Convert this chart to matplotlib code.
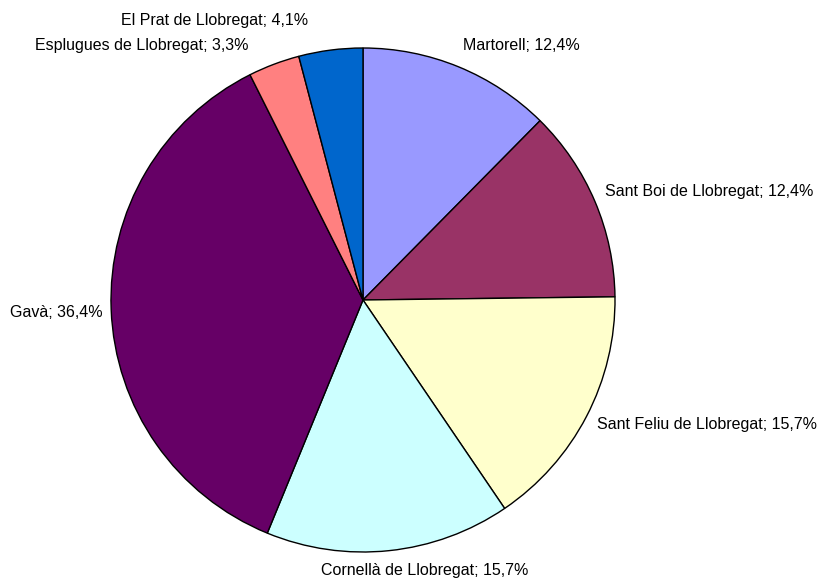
import matplotlib
matplotlib.use("Agg")
import matplotlib.pyplot as plt

names = ["Martorell", "Sant Boi de Llobregat", "Sant Feliu de Llobregat",
         "Cornellà de Llobregat", "Gavà", "Esplugues de Llobregat",
         "El Prat de Llobregat"]
shares = [12.4, 12.4, 15.7, 15.7, 36.4, 3.3, 4.1]
colors = ["#9999FF", "#993366", "#FFFFCC", "#CCFFFF", "#660066", "#FF8080", "#0066CC"]

# label anchor in pie-radius units, plus horizontal alignment
label_pos = [(0.397, 1.008, "left"), (0.960, 0.429, "left"), (0.929, -0.496, "left"),
             (0.246, -1.075, "center"), (-1.032, -0.048, "right"),
             (-0.456, 1.008, "right"), (-0.218, 1.111, "right")]

plt.rcParams["font.family"] = ["Liberation Sans", "DejaVu Sans"]

fig = plt.figure(figsize=(8.17, 5.78), dpi=100)
ax = fig.add_axes([0, 0, 1, 1])
ax.pie(shares, colors=colors, startangle=90, counterclock=False, radius=1,
       wedgeprops=dict(edgecolor="black", linewidth=1.0))

for name, val, (x, y, ha) in zip(names, shares, label_pos):
    txt = "{}; {}%".format(name, ("%.1f" % val).replace(".", ","))
    ax.text(x, y, txt, ha=ha, va="center", fontsize=11.5, color="black")

ax.set_xlim(-363 / 252, (817 - 363) / 252)
ax.set_ylim(-(578 - 300) / 252, 300 / 252)
ax.set_aspect("auto")
ax.axis("off")

fig.savefig("out.png", dpi=100)
